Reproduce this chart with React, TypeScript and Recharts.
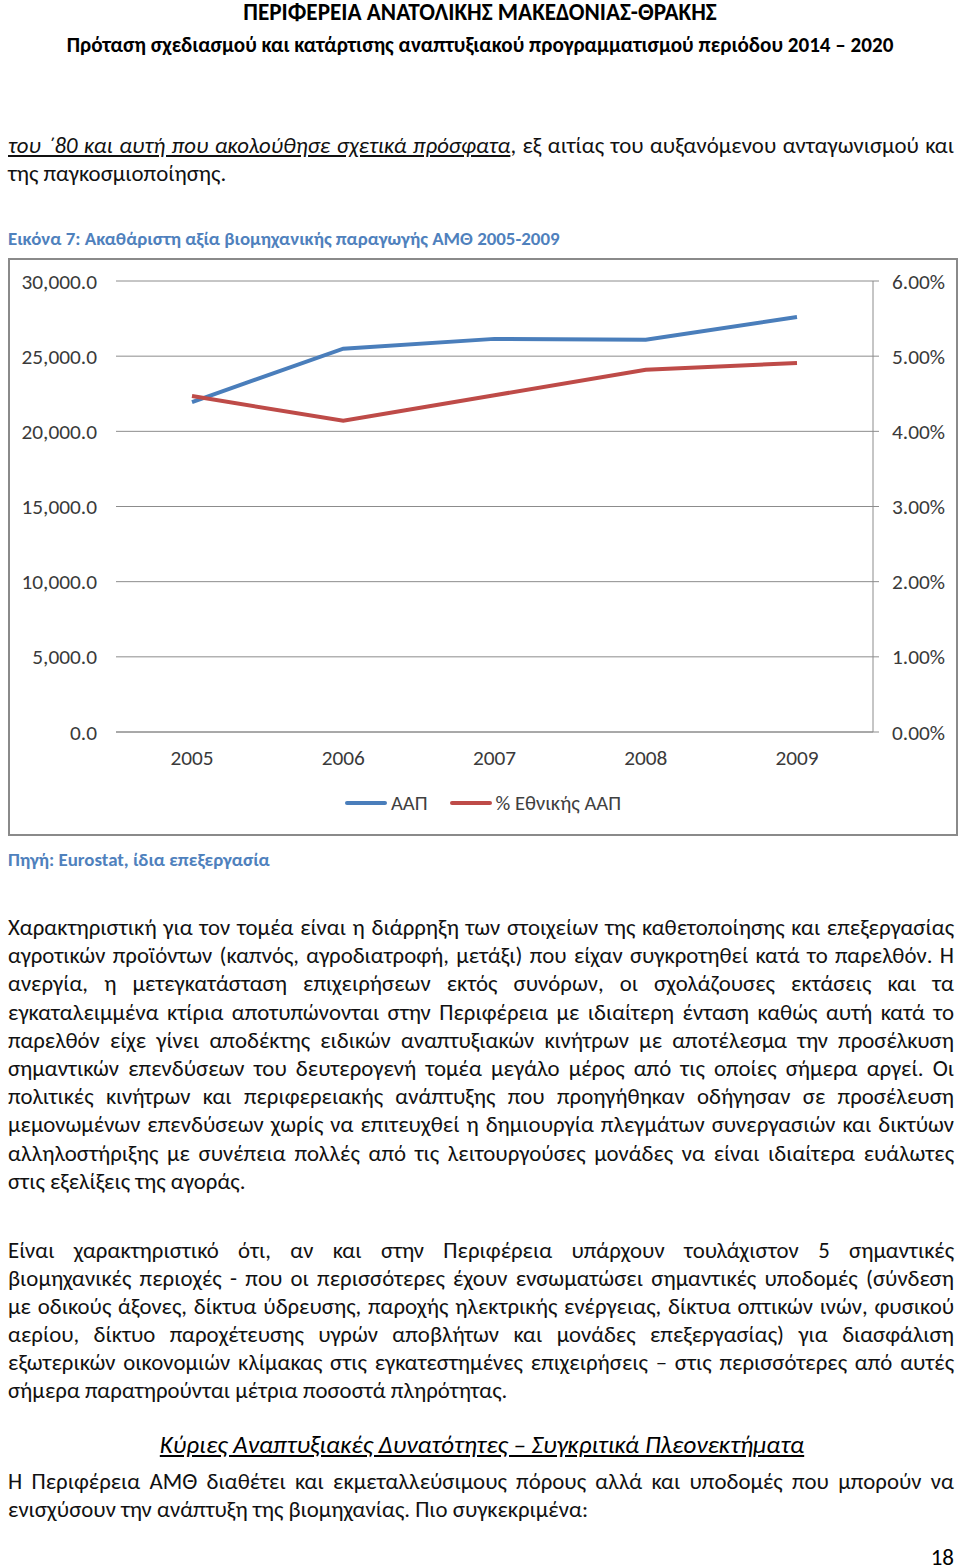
import { LineChart, Line, XAxis, YAxis, CartesianGrid, Legend } from "recharts";

const years = ["2005", "2006", "2007", "2008", "2009"];
const aapValues = [21950, 25500, 26150, 26100, 27600];
const nationalShare = [4.47, 4.14, 4.48, 4.82, 4.91];
const leftTicks = [0, 5000, 10000, 15000, 20000, 25000, 30000];
const rightTicks = [0, 1, 2, 3, 4, 5, 6];
const seriesNames = ["ΑΑΠ", "% Εθνικής ΑΑΠ"];

const data = years.map((y, i) => ({
    year: y,
    aap: aapValues[i],
    share: nationalShare[i],
}));

const TEXT_FONT = "'Carlito', 'Liberation Sans Narrow', 'Roboto', sans-serif";
const CHART_FONT = TEXT_FONT;
const BLUE = "#4a7ebb";
const RED = "#be4b48";
const GRID = "#8c8c8c";
const CAPTION = "#4f81bd";

const para1 = [
    "Χαρακτηριστική για τον τομέα είναι η διάρρηξη των στοιχείων της καθετοποίησης και επεξεργασίας",
    "αγροτικών προϊόντων (καπνός, αγροδιατροφή, μετάξι) που είχαν συγκροτηθεί κατά το παρελθόν. Η",
    "ανεργία, η μετεγκατάσταση επιχειρήσεων εκτός συνόρων, οι σχολάζουσες εκτάσεις και τα",
    "εγκαταλειμμένα κτίρια αποτυπώνονται στην Περιφέρεια με ιδιαίτερη ένταση καθώς αυτή κατά το",
    "παρελθόν είχε γίνει αποδέκτης ειδικών αναπτυξιακών κινήτρων με αποτέλεσμα την προσέλκυση",
    "σημαντικών επενδύσεων του δευτερογενή τομέα μεγάλο μέρος από τις οποίες σήμερα αργεί. Οι",
    "πολιτικές κινήτρων και περιφερειακής ανάπτυξης που προηγήθηκαν οδήγησαν σε προσέλευση",
    "μεμονωμένων επενδύσεων χωρίς να επιτευχθεί η δημιουργία πλεγμάτων συνεργασιών και δικτύων",
    "αλληλοστήριξης με συνέπεια πολλές από τις λειτουργούσες μονάδες να είναι ιδιαίτερα ευάλωτες",
    "στις εξελίξεις της αγοράς.",
];

const para2 = [
    "Είναι χαρακτηριστικό ότι, αν και στην Περιφέρεια υπάρχουν τουλάχιστον 5 σημαντικές",
    "βιομηχανικές περιοχές - που οι περισσότερες έχουν ενσωματώσει σημαντικές υποδομές (σύνδεση",
    "με οδικούς άξονες, δίκτυα ύδρευσης, παροχής ηλεκτρικής ενέργειας, δίκτυα οπτικών ινών, φυσικού",
    "αερίου, δίκτυο παροχέτευσης υγρών αποβλήτων και μονάδες επεξεργασίας) για διασφάλιση",
    "εξωτερικών οικονομιών κλίμακας στις εγκατεστημένες επιχειρήσεις – στις περισσότερες από αυτές",
    "σήμερα παρατηρούνται μέτρια ποσοστά πληρότητας.",
];

const para3 = [
    "Η Περιφέρεια ΑΜΘ διαθέτει και εκμεταλλεύσιμους πόρους αλλά και υποδομές που μπορούν να",
    "ενισχύσουν την ανάπτυξη της βιομηχανίας. Πιο συγκεκριμένα:",
];

const TextLine = ({ y, children, justify = true, style = {} }: any) => (
    <div
        style={{
            position: "absolute",
            left: 8,
            top: y - 14,
            width: 946,
            height: 28,
            lineHeight: "28px",
            fontFamily: TEXT_FONT,
            fontSize: 22.8,
            color: "#111",
            textAlign: justify ? "justify" : "left",
            textAlignLast: justify ? "justify" : "left",
            whiteSpace: "nowrap",
            ...style,
        }}
    >
        {children}
    </div>
);

const renderLegend = (props: any) => {
    const payload = [...(props.payload || [])].sort(
        (a: any, b: any) => seriesNames.indexOf(a.value) - seriesNames.indexOf(b.value)
    );
    return (
        <div
            style={{
                display: "flex",
                justifyContent: "center",
                alignItems: "center",
                height: 36,
                fontFamily: CHART_FONT,
                fontSize: 20.6,
                color: "#404040",
            }}
        >
            {payload.map((entry: any, index: number) => (
                <span
                    key={`legend-${index}`}
                    style={{ display: "flex", alignItems: "center", marginRight: index === 0 ? 22 : 0 }}
                >
                    <span
                        style={{
                            display: "inline-block",
                            width: 42,
                            height: 4,
                            borderRadius: 2,
                            background: entry.color,
                            marginRight: 4,
                        }}
                    />
                    {entry.value}
                </span>
            ))}
        </div>
    );
};

const tickStyle = { fontFamily: CHART_FONT, fontSize: 21.3, fill: "#3a3a3a" };

const App = () => {
    return (
        <div style={{ position: "absolute", left: 0, top: 0, width: 960, height: 1568, background: "#fff" }}>
            <div
                style={{
                    position: "absolute",
                    left: 0,
                    top: 0,
                    width: 960,
                    textAlign: "center",
                    lineHeight: "24px",
                    fontFamily: TEXT_FONT,
                    fontWeight: "bold",
                    fontSize: 23.2,
                }}
            >
                ΠΕΡΙΦΕΡΕΙΑ ΑΝΑΤΟΛΙΚΗΣ ΜΑΚΕΔΟΝΙΑΣ-ΘΡΑΚΗΣ
            </div>
            <div
                style={{
                    position: "absolute",
                    left: 0,
                    top: 33,
                    width: 960,
                    textAlign: "center",
                    lineHeight: "24px",
                    fontFamily: TEXT_FONT,
                    fontWeight: "bold",
                    fontSize: 21.1,
                }}
            >
                Πρόταση σχεδιασμού και κατάρτισης αναπτυξιακού προγραμματισμού περιόδου 2014 – 2020
            </div>

            <TextLine y={145}>
                <span style={{ fontStyle: "italic", textDecoration: "underline" }}>
                    του ΄80 και αυτή που ακολούθησε σχετικά πρόσφατα
                </span>
                , εξ αιτίας του αυξανόμενου ανταγωνισμού και
            </TextLine>
            <TextLine y={173} justify={false}>
                της παγκοσμιοποίησης.
            </TextLine>

            <TextLine y={239} justify={false} style={{ fontWeight: "bold", color: CAPTION, fontSize: 18.9 }}>
                Εικόνα 7: Ακαθάριστη αξία βιομηχανικής παραγωγής ΑΜΘ 2005-2009
            </TextLine>

            <div style={{ position: "absolute", left: 8, top: 258, width: 950, height: 577 }}>
                <LineChart
                    width={950}
                    height={577}
                    data={data}
                    margin={{ top: 23, right: 8, left: 8, bottom: 14 }}
                >
                    <CartesianGrid vertical={false} stroke={GRID} yAxisId="left" />
                    <XAxis
                        dataKey="year"
                        height={53}
                        padding={{ left: 76, right: 76 }}
                        axisLine={{ stroke: GRID }}
                        tickLine={false}
                        tickSize={6}
                        tickMargin={12}
                        tick={tickStyle}
                    />
                    <YAxis
                        yAxisId="left"
                        width={100}
                        domain={[0, 30000]}
                        ticks={leftTicks}
                        axisLine={false}
                        tickLine={false}
                        tickSize={6}
                        tickMargin={13}
                        tick={tickStyle}
                        tickFormatter={(v: number) =>
                            v.toLocaleString("en-US", { minimumFractionDigits: 1, maximumFractionDigits: 1 })
                        }
                    />
                    <YAxis
                        yAxisId="right"
                        orientation="right"
                        width={77}
                        domain={[0, 6]}
                        ticks={rightTicks}
                        axisLine={{ stroke: GRID }}
                        tickLine={{ stroke: GRID }}
                        tickSize={6}
                        tickMargin={13}
                        tick={tickStyle}
                        tickFormatter={(v: number) => `${v.toFixed(2)}%`}
                    />
                    <Legend verticalAlign="bottom" height={36} content={renderLegend} />
                    <Line
                        yAxisId="left"
                        type="linear"
                        dataKey="aap"
                        name={seriesNames[0]}
                        stroke={BLUE}
                        strokeWidth={4}
                        dot={false}
                        isAnimationActive={false}
                    />
                    <Line
                        yAxisId="right"
                        type="linear"
                        dataKey="share"
                        name={seriesNames[1]}
                        stroke={RED}
                        strokeWidth={4}
                        dot={false}
                        isAnimationActive={false}
                    />
                </LineChart>
            </div>
            <div
                style={{
                    position: "absolute",
                    left: 8,
                    top: 258,
                    width: 950,
                    height: 578,
                    border: "2px solid #8a8a8a",
                    boxSizing: "border-box",
                    pointerEvents: "none",
                }}
            />

            <TextLine y={860} justify={false} style={{ fontWeight: "bold", color: CAPTION, fontSize: 18.9 }}>
                Πηγή: Eurostat, ίδια επεξεργασία
            </TextLine>

            {para1.map((t, i) => (
                <TextLine key={`p1-${i}`} y={927 + i * 28.2} justify={i < para1.length - 1}>
                    {t}
                </TextLine>
            ))}
            {para2.map((t, i) => (
                <TextLine key={`p2-${i}`} y={1250 + i * 28} justify={i < para2.length - 1}>
                    {t}
                </TextLine>
            ))}
            <div
                style={{
                    position: "absolute",
                    left: 0,
                    top: 1431,
                    width: 964,
                    textAlign: "center",
                    lineHeight: "28px",
                    fontFamily: TEXT_FONT,
                    fontStyle: "italic",
                    textDecoration: "underline",
                    fontSize: 25,
                }}
            >
                Κύριες Αναπτυξιακές Δυνατότητες – Συγκριτικά Πλεονεκτήματα
            </div>
            {para3.map((t, i) => (
                <TextLine key={`p3-${i}`} y={1481 + i * 28} justify={i < para3.length - 1}>
                    {t}
                </TextLine>
            ))}
            <div
                style={{
                    position: "absolute",
                    right: 6,
                    top: 1545,
                    lineHeight: "24px",
                    fontFamily: TEXT_FONT,
                    fontSize: 23,
                }}
            >
                18
            </div>
        </div>
    );
};

export default App;
